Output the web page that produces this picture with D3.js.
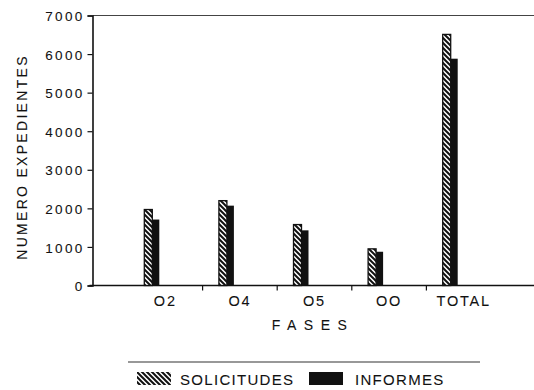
<!DOCTYPE html>
<html><head><meta charset="utf-8">
<script src="https://cdn.jsdelivr.net/npm/d3@7"></script>
<style>body{margin:0;background:#fff}svg{display:block}text{font-family:"Liberation Sans",Arial,sans-serif;fill:#111;stroke:#111;stroke-width:0.08px}</style>
</head><body>
<script>
const categories = ["O2","O4","O5","OO","TOTAL"];
const solicitudes = [1970, 2200, 1580, 950, 6510];
const informes = [1710, 2070, 1430, 875, 5880];
const yTicks = [0,1000,2000,3000,4000,5000,6000,7000];
const seriesNames = ["SOLICITUDES","INFORMES"];

const W=534,H=390;
const svg=d3.select("body").append("svg").attr("width",W).attr("height",H);
const defs=svg.append("defs");
const pat=defs.append("pattern").attr("id","hatch").attr("patternUnits","userSpaceOnUse")
  .attr("width",5).attr("height",5);
pat.append("rect").attr("width",5).attr("height",5).attr("fill","#fff");
pat.append("path").attr("d","M0,0L5,5M-2,3L2,7M3,-2L7,2").attr("stroke","#111").attr("stroke-width",2);

const y=d3.scaleLinear().domain([0,7000]).range([285.5,15.5]);
const x=d3.scaleBand().domain(categories).range([128,501]);
const axX=92.5;

// top line
svg.append("line").attr("x1",axX).attr("x2",534).attr("y1",y(7000)).attr("y2",y(7000)).attr("stroke","#444").attr("stroke-width",1.2);

// y axis
const ya=svg.append("g").attr("transform",`translate(${axX},0)`)
  .call(d3.axisLeft(y).tickValues(yTicks).tickSize(5).tickPadding(3).tickFormat(d3.format("d")));
ya.select(".domain").attr("stroke","#111").attr("stroke-width",1.6);
ya.selectAll(".tick line").attr("stroke","#111").attr("stroke-width",1.2);
ya.selectAll("text").style("font-size","13.5px").style("letter-spacing","2.3px").attr("dy","0.38em").attr("fill","#111");

// x axis line
svg.append("line").attr("x1",axX-3).attr("x2",534).attr("y1",y(0)).attr("y2",y(0)).attr("stroke","#111").attr("stroke-width",1.5);
// x ticks between groups
const bounds=categories.slice(1).map(c=>x(c));
svg.selectAll(".xt").data(bounds).enter().append("line").attr("x1",d=>d).attr("x2",d=>d)
  .attr("y1",y(0)).attr("y2",y(0)+5).attr("stroke","#111").attr("stroke-width",1.2);
svg.selectAll(".xl").data(categories).enter().append("text")
  .attr("x",d=>x(d)+x.bandwidth()/2).attr("y",306).attr("text-anchor","middle")
  .style("font-size","14.5px").style("letter-spacing","1.8px").text(d=>d);

// bars
const cx=d=>x(d)+x.bandwidth()/2;
svg.selectAll(".bs").data(categories).enter().append("rect")
  .attr("x",d=>cx(d)-21).attr("width",8).attr("y",(d,i)=>y(solicitudes[i])).attr("height",(d,i)=>y(0)-y(solicitudes[i]))
  .attr("fill","url(#hatch)").attr("stroke","#111").attr("stroke-width",1.3);
svg.selectAll(".bi").data(categories).enter().append("rect")
  .attr("x",d=>cx(d)-13).attr("width",7).attr("y",(d,i)=>y(informes[i])).attr("height",(d,i)=>y(0)-y(informes[i]))
  .attr("fill","#111");

// axis titles
svg.append("text").attr("transform","translate(27,157) rotate(-90)").attr("text-anchor","middle")
  .style("font-size","14px").style("letter-spacing","2.3px").text("NUMERO EXPEDIENTES");
svg.append("text").attr("x",313).attr("y",330).attr("text-anchor","middle")
  .style("font-size","14px").style("letter-spacing","7.5px").text("FASES");

// legend
svg.append("line").attr("x1",128).attr("x2",480).attr("y1",362).attr("y2",362).attr("stroke","#333").attr("stroke-width",1.2);
svg.append("rect").attr("x",137).attr("y",372).attr("width",34).attr("height",13).attr("fill","url(#hatch)");
svg.append("text").attr("x",180).attr("y",385).style("font-size","15px").style("letter-spacing","1.3px").text(seriesNames[0]);
svg.append("rect").attr("x",309).attr("y",372).attr("width",34).attr("height",13).attr("fill","#111");
svg.append("text").attr("x",355).attr("y",385).style("font-size","15px").style("letter-spacing","1.3px").text(seriesNames[1]);
</script>
</body></html>
